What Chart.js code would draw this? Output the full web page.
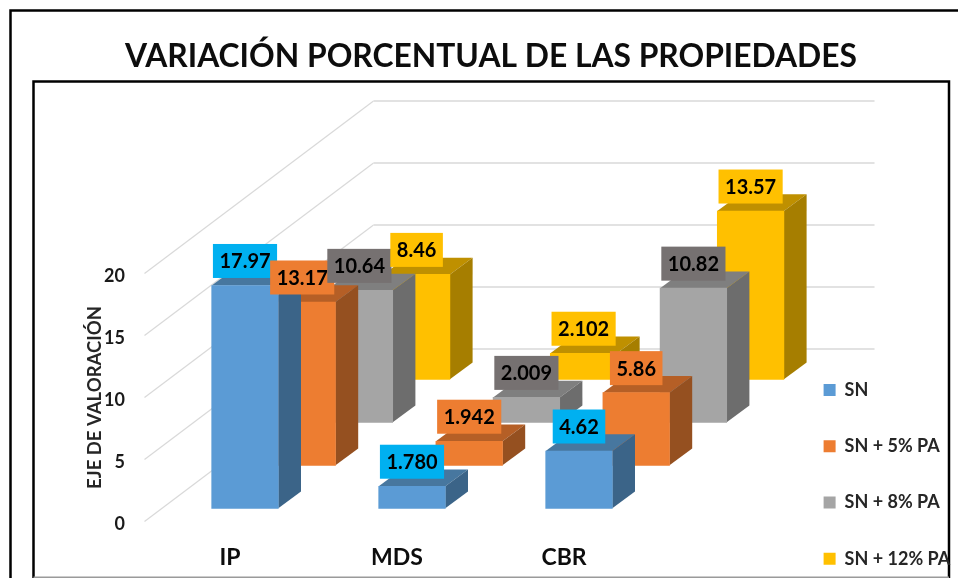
<!DOCTYPE html>
<html><head><meta charset="utf-8">
<style>html,body{margin:0;padding:0;background:#fff}canvas{display:block}</style>
<script src="https://cdn.jsdelivr.net/npm/chart.js@4"></script>
</head><body>
<canvas id="c" width="958" height="578"></canvas>
<script>
const categories = ['IP','MDS','CBR'];
const labelDecimals = [2,3,2];
const seriesNames = ['SN','SN + 5% PA','SN + 8% PA','SN + 12% PA'];
const valuesSN   = [17.97,1.780,4.62];
const valuesPA5  = [13.17,1.942,5.86];
const valuesPA8  = [10.64,2.009,10.82];
const valuesPA12 = [8.46,2.102,13.57];
const yTicksMax = 20, yTickStep = 5;
const titleText = 'VARIACIÓN PORCENTUAL DE LAS PROPIEDADES';
const yTitle = 'EJE DE VALORACIÓN';

const frontColors = ['#5B9BD5','#ED7D31','#A5A5A5','#FFC000'];
const topColors   = ['#47779F','#B55F26','#7F7F7F','#BF9000'];
const sideColors  = ['#3B6488','#955020','#6D6D6D','#A67E00'];
const boxColors   = ['#00B0F0','#ED7D31','#767171','#FFC000'];
const FONT = 'Lato, "Open Sans", sans-serif';

const seriesValues = [valuesSN,valuesPA5,valuesPA8,valuesPA12];
const depth = {sx:57.2, sy:43, ox:15, oy:13.2, bx:22.7, by:16.7, wx:227, wy:172.5};

const threeD = {
  id:'threeD',
  beforeLayout(chart){
    const lg = chart.legend;
    if(lg && !lg._wrapped){
      const f = lg.fit;
      lg.fit = function(){ f.call(this); this.width = chart.width - 647.5; };
      lg._wrapped = true;
    }
  },
  afterLayout(chart){
    const lg = chart.legend, t = chart.titleBlock;
    lg.left = 785.3; lg.right = 1100; lg.top = 342.6; lg.bottom = 700;
    t.left += 12; t.right += 12;
  },
  beforeDraw(chart){
    const c = chart.ctx;
    c.save();
    c.fillStyle='#fff'; c.fillRect(0,0,chart.width,chart.height);
    c.strokeStyle='#000'; c.lineWidth=2.5;
    c.beginPath();
    c.moveTo(10.5,578); c.lineTo(10.5,10.5); c.lineTo(958,10.5);
    c.moveTo(33.5,578); c.lineTo(33.5,81.5); c.lineTo(949,81.5); c.lineTo(949,578);
    c.stroke();
    c.strokeStyle='#9a9a9a'; c.lineWidth=1.5;
    c.beginPath(); c.moveTo(33.5,577.2); c.lineTo(949,577.2); c.stroke();
    c.restore();
  },
  beforeDatasetsDraw(chart){
    const c = chart.ctx, y = chart.scales.y, a = chart.chartArea;
    c.save();
    y.ticks.forEach(t=>{
      const py = y.getPixelForValue(t.value), x0 = a.left-2;
      c.strokeStyle='#d9d9d9'; c.lineWidth=1.2;
      c.beginPath(); c.moveTo(x0,py); c.lineTo(a.left+depth.wx,py-depth.wy); c.stroke();
      c.strokeStyle='#e2e2e2'; c.lineWidth=1.8;
      c.beginPath(); c.moveTo(a.left+depth.wx,py-depth.wy); c.lineTo(a.right+depth.wx,py-depth.wy); c.stroke();
    });
    c.restore();
  },
  beforeDatasetDraw(chart,args){
    const c = chart.ctx, i = args.index;
    c.save();
    c.translate(depth.ox+depth.sx*i, -depth.oy-depth.sy*i);
    args.meta.data.forEach(el=>{
      const {x,y,base,width} = el.getProps(['x','y','base','width'],true);
      const l = x-width/2, r = x+width/2;
      c.fillStyle = topColors[i];
      c.beginPath(); c.moveTo(l,y); c.lineTo(l+depth.bx,y-depth.by); c.lineTo(r+depth.bx,y-depth.by); c.lineTo(r,y); c.closePath(); c.fill();
      c.fillStyle = sideColors[i];
      c.beginPath(); c.moveTo(r,y); c.lineTo(r+depth.bx,y-depth.by); c.lineTo(r+depth.bx,base-depth.by); c.lineTo(r,base); c.closePath(); c.fill();
    });
  },
  afterDatasetDraw(chart){ chart.ctx.restore(); },
  afterDatasetsDraw(chart){
    const c = chart.ctx;
    c.save();
    c.font = 'bold 20px '+FONT;
    c.textAlign='center'; c.textBaseline='middle';
    seriesValues.forEach((vals,i)=>{
      const meta = chart.getDatasetMeta(i);
      vals.forEach((v,k)=>{
        const el = meta.data[k];
        const cx = el.x+depth.ox+depth.sx*i, top = el.y-depth.oy-depth.sy*i;
        const txt = v.toFixed(labelDecimals[k]);
        const w = c.measureText(txt).width+13, h=34;
        c.fillStyle = boxColors[i];
        c.fillRect(cx-w/2, top-7.5-h, w, h);
        c.fillStyle = '#000';
        c.fillText(txt, cx, top-7.5-h/2+1);
      });
    });
    c.restore();
  }
};

new Chart(document.getElementById('c'),{
  type:'bar',
  data:{
    labels:categories,
    datasets:seriesNames.map((n,i)=>({
      label:n, data:seriesValues[i], backgroundColor:frontColors[i], borderWidth:0,
      grouped:false, barThickness:66.6, clip:false
    }))
  },
  options:{
    responsive:false, animation:false,
    layout:{padding:{top:37.5,left:0,right:0,bottom:0}},
    plugins:{
      tooltip:{enabled:false},
      title:{display:true,text:titleText,color:'#0d0d0d',align:'center',
        font:{family:FONT,size:31.8,weight:'bold'},padding:{top:0,bottom:197.84}},
      legend:{position:'right',align:'start',
        labels:{boxWidth:12,boxHeight:12,padding:38.3,color:'#262626',
          font:{family:FONT,size:18,weight:'bold'}}}
    },
    scales:{
      x:{
        grid:{display:false},border:{display:false},
        ticks:{color:'#0d0d0d',padding:14,font:{family:FONT,size:23,weight:'bold'},maxRotation:0},
        afterFit(s){s.height=56.5;}
      },
      y:{
        min:0,max:yTicksMax,
        grid:{display:false,drawTicks:false},border:{display:false},
        ticks:{stepSize:yTickStep,color:'#1a1a1a',padding:21.5,labelOffset:2.5,font:{family:FONT,size:18,weight:'bold'}},
        title:{display:true,text:yTitle,color:'#262626',font:{family:FONT,size:18.5,weight:'bold'},padding:{top:84,bottom:0}},
        afterFit(s){s.width=146.5;}
      }
    }
  },
  plugins:[threeD]
});
</script>
</body></html>
